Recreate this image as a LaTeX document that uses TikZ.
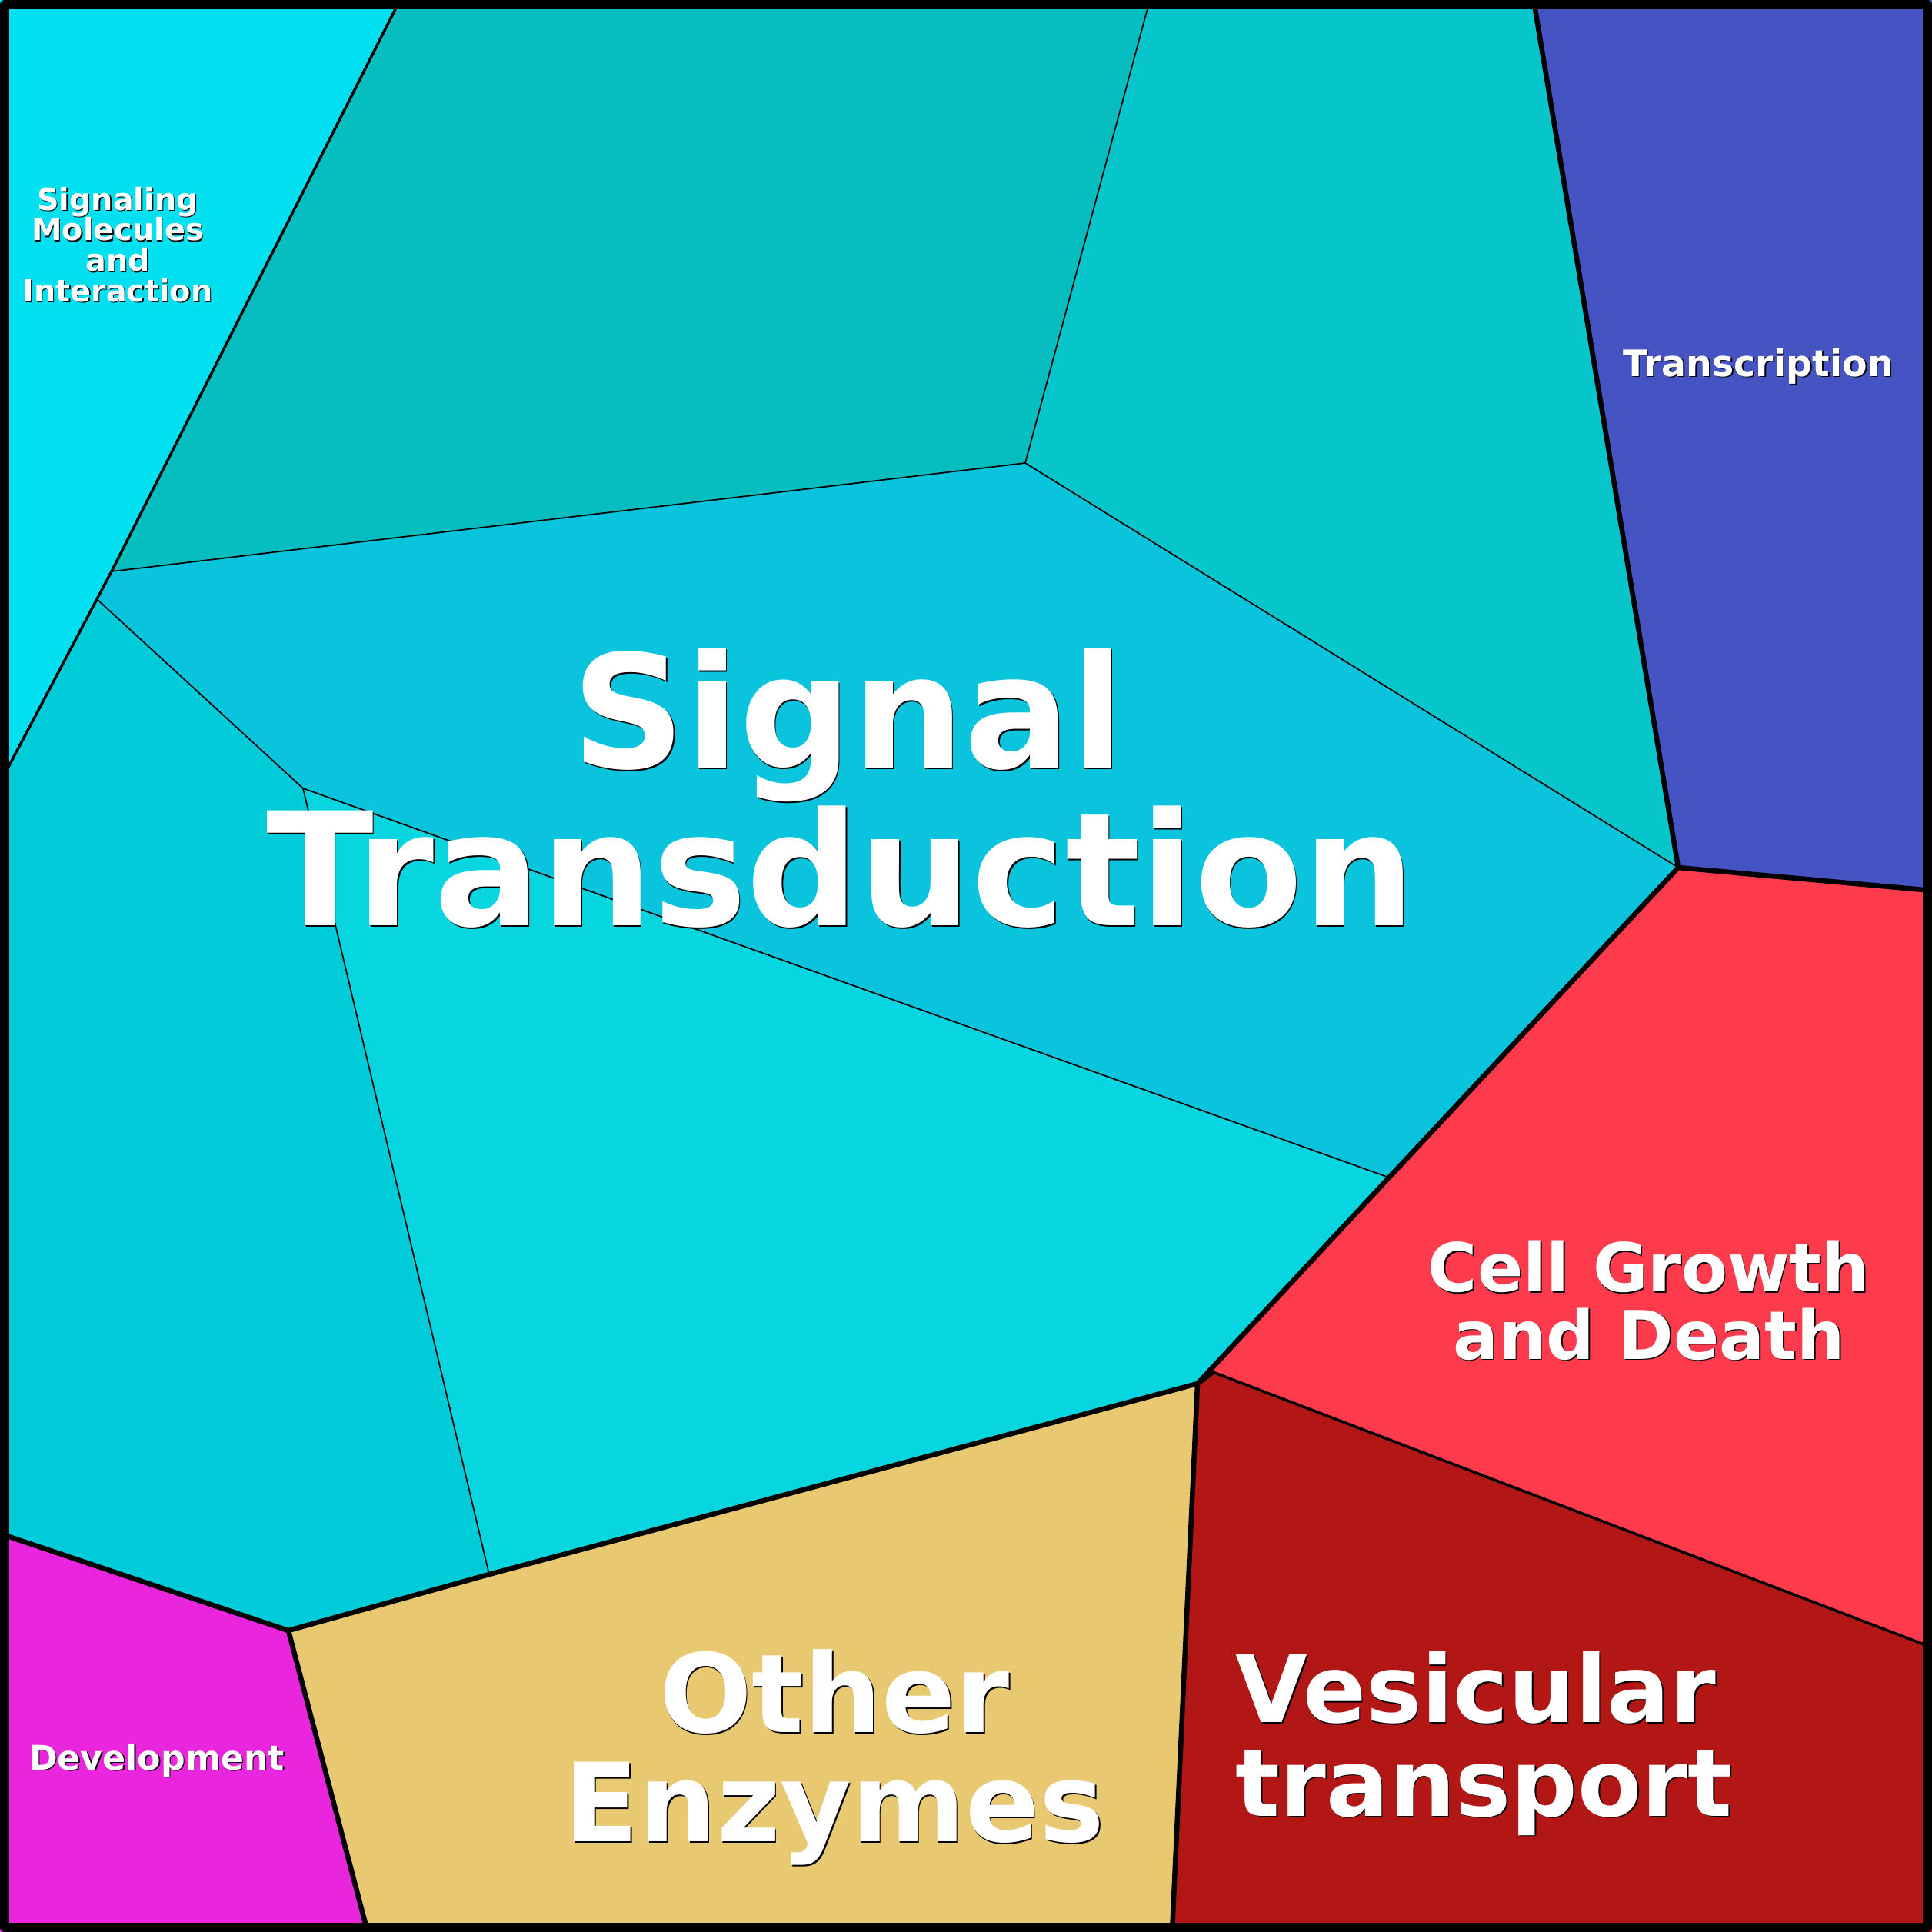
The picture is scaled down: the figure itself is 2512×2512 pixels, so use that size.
\documentclass[tikz,border=0pt]{standalone}
\usepackage{fontspec}
\setmainfont{DejaVu Sans}
\usetikzlibrary{positioning}
\definecolor{sigmol}{HTML}{00E0F0}
\definecolor{topteal}{HTML}{06BEC0}
\definecolor{rightteal}{HTML}{06C6CC}
\definecolor{transcr}{HTML}{4653C3}
\definecolor{sigtrans}{HTML}{0AC4DE}
\definecolor{leftcyan}{HTML}{00CBD8}
\definecolor{midcyan}{HTML}{07D6E0}
\definecolor{cellgd}{HTML}{FD3B4D}
\definecolor{vesic}{HTML}{B21715}
\definecolor{enzym}{HTML}{E9C872}
\definecolor{devel}{HTML}{E926DD}
\tikzset{
  lbl/.style={text=white,align=center,inner sep=0pt},
  inner edge/.style={line width=0.5pt},
  sub edge/.style={line width=1pt},
  group edge/.style={line width=1.85pt,line join=round},
}
\newcommand{\celllabel}[5][]{%
  \node[lbl,#1,text=black,xshift=0.15mm,yshift=-0.15mm,font={\bfseries\fontsize{#4}{#4}\selectfont}] (#2-sh) at (#3) {#5};
  \node[lbl,#1,font={\bfseries\fontsize{#4}{#4}\selectfont}] (#2) at (#3) {#5};
}

\begin{document}
\begin{tikzpicture}[x=0.1mm,y=-0.1mm]
\useasboundingbox (0,0) rectangle (2512,2512);
\coordinate (P1) at (520,0);
\coordinate (P2) at (1495,0);
\coordinate (P3) at (1994,0);
\coordinate (Q1) at (1333,602);
\coordinate (Q2) at (145,743);
\coordinate (Q3) at (126,779);
\coordinate (L1) at (0,1018);
\coordinate (R1) at (2182,1128);
\coordinate (R2) at (2512,1158);
\coordinate (S1) at (1806,1531);
\coordinate (S2) at (394,1025);
\coordinate (T1) at (1557,1799);
\coordinate (T2) at (1577,1784);
\coordinate (T3) at (2512,2142);
\coordinate (B1) at (375,2120);
\coordinate (B2) at (636,2047);
\coordinate (B3) at (0,1994);
\coordinate (B4) at (478,2512);
\coordinate (B5) at (1524,2512);

\fill[sigmol] (0,0) -- (P1) -- (Q2) -- (Q3) -- (L1) -- cycle;
\fill[topteal] (P1) -- (P2) -- (Q1) -- (Q2) -- cycle;
\fill[rightteal] (P2) -- (P3) -- (R1) -- (Q1) -- cycle;
\fill[transcr] (P3) -- (2512,0) -- (R2) -- (R1) -- cycle;
\fill[sigtrans] (Q2) -- (Q1) -- (R1) -- (S1) -- (S2) -- (Q3) -- cycle;
\fill[midcyan] (S2) -- (S1) -- (T1) -- (B2) -- cycle;
\fill[leftcyan] (L1) -- (Q3) -- (S2) -- (B2) -- (B1) -- (B3) -- cycle;
\fill[cellgd] (R1) -- (R2) -- (T3) -- (T2) -- (T1) -- cycle;
\fill[vesic] (T1) -- (T2) -- (T3) -- (2512,2512) -- (B5) -- cycle;
\fill[enzym] (B1) -- (T1) -- (B5) -- (B4) -- cycle;
\fill[devel] (B3) -- (B1) -- (B4) -- (0,2512) -- cycle;

\draw[inner edge] (Q2) -- (Q1) -- (P2);
\draw[inner edge] (Q1) -- (R1);
\draw[inner edge] (Q3) -- (S2) -- (S1);
\draw[inner edge] (S2) -- (B2);
\draw[sub edge] (P1) -- (Q2) -- (Q3) -- (L1);
\draw[sub edge] (T2) -- (T3);
\draw[group edge] (P3) -- (R1) -- (R2);
\draw[group edge] (R1) -- (S1) -- (T1) -- (B2) -- (B1) -- (B3);
\draw[group edge] (B1) -- (B4);
\draw[group edge] (B5) -- (T1) -- (T2);
\draw[line width=3.41pt,line join=round] (6,6) rectangle (2506,2506);

\celllabel{sigtrans}{1093,1025}{58.3}{\hspace{2mm}Signal\\Transduction}
\celllabel{enzymes}{1085,2285}{40.4}{Other\\Enzymes}
\celllabel[align=left,anchor=west]{vesicular}{1606,2267}{34.5}{Vesicular\\transport}
\celllabel{cellgrowth}{2144,1691}{24.9}{Cell Growth\\and Death}
\celllabel{transcription}{2286,476}{13.5}{Transcription}
\celllabel{sigmol}{153,318}{11.3}{Signaling\\Molecules\\and\\Interaction}
\celllabel{development}{204,2289}{12.6}{Development}
\end{tikzpicture}
\end{document}
